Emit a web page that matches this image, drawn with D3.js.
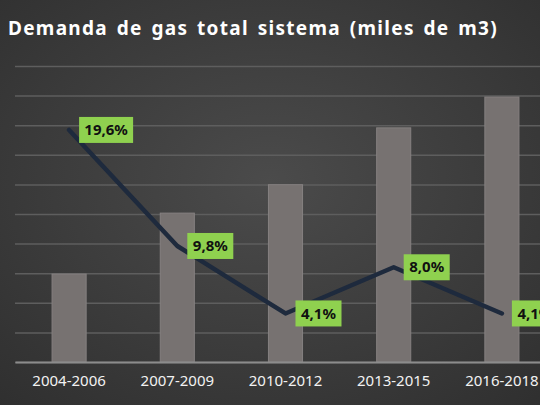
<!DOCTYPE html>
<html>
<head>
<meta charset="utf-8">
<script src="https://cdn.jsdelivr.net/npm/d3@7"></script>
<style>
  html, body { margin: 0; padding: 0; background: #3a3a3a; }
  svg { display: block; }
</style>
</head>
<body>
<script>
// datos
const periods = ["2004-2006", "2007-2009", "2010-2012", "2013-2015", "2016-2018"];
const demand = [20970, 23030, 23990, 25910, 26950]; // miles de m3 (estimado)
const growth = [19.6, 9.8, 4.1, 8.0, 4.1];           // %
const growthLabels = ["19,6%", "9,8%", "4,1%", "8,0%", "4,1%"];

const width = 540, height = 405;
const plot = { left: 15, right: 556, top: 66, bottom: 362 };

const svg = d3.select("body").append("svg")
  .attr("width", width)
  .attr("height", height);

// fondo con degradado
const defs = svg.append("defs");
const grad = defs.append("radialGradient")
  .attr("id", "bg")
  .attr("cx", "50%").attr("cy", "45%").attr("r", "75%");
grad.append("stop").attr("offset", "0%").attr("stop-color", "#4b4b4b");
grad.append("stop").attr("offset", "100%").attr("stop-color", "#2f2f2f");

svg.append("rect")
  .attr("width", width).attr("height", height)
  .attr("fill", "url(#bg)");

// escalas
const x = d3.scaleBand()
  .domain(periods)
  .range([plot.left, plot.right])
  .paddingInner(0.685)
  .paddingOuter(0.3425);

const y = d3.scaleLinear()
  .domain([18000, 28000])
  .range([plot.bottom, plot.top]);

const y2 = d3.scaleLinear()
  .domain([0, 25])
  .range([plot.bottom, plot.top]);

// líneas de cuadrícula
svg.append("g")
  .attr("transform", `translate(${plot.left},0)`)
  .call(d3.axisLeft(y).ticks(10).tickSize(-(width - plot.left)).tickFormat(""))
  .call(g => g.select(".domain").remove())
  .call(g => g.selectAll(".tick line")
    .attr("stroke", "#5e5e5e")
    .attr("stroke-width", 1.5));

// barras
svg.append("g")
  .selectAll("rect")
  .data(periods)
  .join("rect")
  .attr("x", d => x(d))
  .attr("y", (d, i) => y(demand[i]))
  .attr("width", x.bandwidth())
  .attr("height", (d, i) => y(18000) - y(demand[i]))
  .attr("fill", "#777271")
  .attr("stroke", "#858080")
  .attr("stroke-width", 1);

// eje x
const xAxis = svg.append("g")
  .attr("transform", `translate(0,${plot.bottom})`)
  .call(d3.axisBottom(x).tickSize(0).tickPadding(13));
xAxis.select(".domain")
  .attr("stroke", "#8c8c8c")
  .attr("stroke-width", 2);
xAxis.selectAll("text")
  .attr("fill", "#f2f2f2")
  .style("font-family", "'Noto Sans', sans-serif")
  .style("font-size", "15px");

// línea de crecimiento
const line = d3.line()
  .x((d, i) => x(periods[i]) + x.bandwidth() / 2)
  .y(d => y2(d));

svg.append("path")
  .datum(growth)
  .attr("d", line)
  .attr("fill", "none")
  .attr("stroke", "#1e2a3d")
  .attr("stroke-width", 4.5)
  .attr("stroke-linecap", "round")
  .attr("stroke-linejoin", "round");

// etiquetas
const boxW = (i) => growthLabels[i].length > 4 ? 54 : 46;
const labels = svg.append("g")
  .selectAll("g")
  .data(growth)
  .join("g")
  .attr("transform", (d, i) =>
    `translate(${x(periods[i]) + x.bandwidth() / 2 + 10},${y2(d)})`);

labels.append("rect")
  .attr("x", 0)
  .attr("y", -13)
  .attr("width", (d, i) => boxW(i))
  .attr("height", 26)
  .attr("fill", "#8fd14f");

labels.append("text")
  .attr("x", (d, i) => boxW(i) / 2)
  .attr("y", 1)
  .attr("text-anchor", "middle")
  .attr("dominant-baseline", "middle")
  .attr("fill", "#111")
  .style("font-family", "'Noto Sans', sans-serif")
  .style("font-weight", "bold")
  .style("font-size", "15px")
  .text((d, i) => growthLabels[i]);

// título
svg.append("text")
  .attr("x", 8)
  .attr("y", 35)
  .attr("fill", "#ffffff")
  .style("font-family", "'Noto Sans', sans-serif")
  .style("font-weight", "bold")
  .style("font-size", "19px")
  .style("letter-spacing", "1.3px")
  .style("word-spacing", "2.5px")
  .text("Demanda de gas total sistema (miles de m3)");
</script>
</body>
</html>
